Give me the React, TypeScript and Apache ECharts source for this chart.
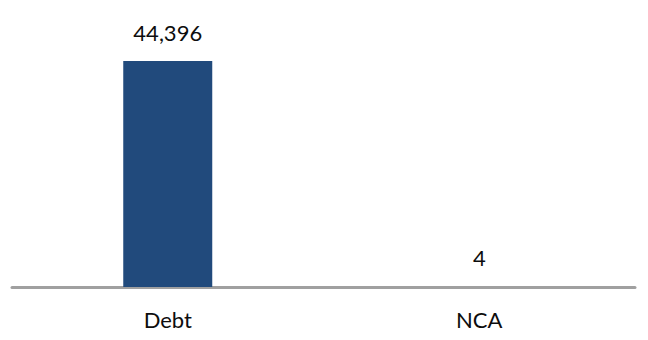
import React, { useEffect, useRef } from "react";
import * as echarts from "echarts";

const categories = ["Debt", "NCA"];
const values = [44396, 4];

export default function App() {
  const ref = useRef<HTMLDivElement>(null);
  useEffect(() => {
    if (!ref.current) return;
    const chart = echarts.init(ref.current, undefined, { renderer: "svg" });
    chart.setOption({
      animation: false,
      grid: { left: 12, right: 13, top: 32.5, bottom: 53 },
      xAxis: {
        type: "category",
        data: categories,
        axisLine: { show: true, lineStyle: { color: "#a0a0a0", width: 3 } },
        axisTick: { show: false },
        axisLabel: {
          margin: 21,
          color: "#0d0d0d",
          fontFamily: "Lato",
          fontSize: 22,
        },
      },
      yAxis: {
        type: "value",
        min: 0,
        max: 50000,
        show: false,
        splitLine: { show: false },
      },
      series: [
        {
          type: "bar",
          data: values,
          barWidth: 89,
          itemStyle: { color: "#214a7c" },
          label: {
            show: true,
            position: "top",
            distance: 18,
            color: "#0d0d0d",
            fontFamily: "Lato",
            fontSize: 22,
            formatter: (p: any) => Number(p.value).toLocaleString("en-US"),
          },
        },
      ],
    });
    return () => chart.dispose();
  }, []);
  return <div ref={ref} style={{ width: 648, height: 340, margin: -8 }} />;
}
